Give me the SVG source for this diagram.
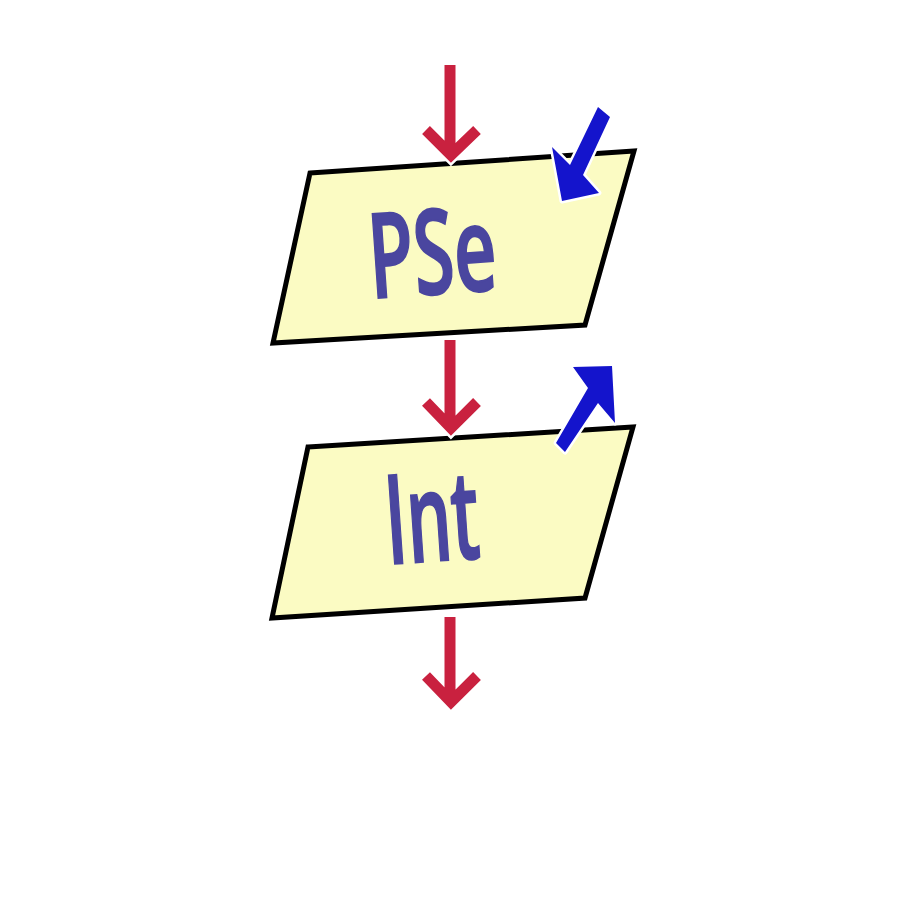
<svg xmlns="http://www.w3.org/2000/svg" width="901" height="900" viewBox="0 0 901 900">
<defs>
<style>
.box{fill:#fbfbc3;stroke:#000;stroke-width:5;stroke-linejoin:miter}
.lbl{font-family:"Open Sans","DejaVu Sans",sans-serif;font-weight:600;fill:#4a469f;stroke:#4a469f;stroke-width:2}
.halo{fill:none;stroke:#fff;stroke-width:16}
.red{fill:none;stroke:#c9213f;stroke-width:11}
.blue{fill:#1414cc;stroke:#fff;stroke-width:5;stroke-linejoin:round;paint-order:stroke}
</style>
</defs>
<rect width="901" height="900" fill="#fff"/>
<g id="node-pse">
<polygon class="box" points="310,173 634,151 585,325 273,343"/>
<text class="lbl" x="435" y="294" font-size="118" text-anchor="middle" textLength="128" lengthAdjust="spacingAndGlyphs" transform="rotate(-4 435 294)">PSe</text>
</g>
<g id="node-int">
<polygon class="box" points="308,447 633,427 585,598 272,618"/>
<text class="lbl" x="435" y="561" font-size="124" text-anchor="middle" textLength="94" lengthAdjust="spacingAndGlyphs" transform="rotate(-4 435 561)">Int</text>
</g>
<g id="connectors">
<g id="arrow-in">
<path class="halo" d="M450,65 V150 M426,130 L451,155 L477,130"/>
<path class="red" d="M450,65 V150 M426,130 L451,155 L477,130"/>
</g>
<g id="arrow-mid">
<path class="halo" d="M450,340 V425 M426,402 L451,428 L477,402"/>
<path class="red" d="M450,340 V425 M426,402 L451,428 L477,402"/>
</g>
<g id="arrow-out">
<path class="halo" d="M450,617 V700 M426,676 L451,702 L477,676"/>
<path class="red" d="M450,617 V700 M426,676 L451,702 L477,676"/>
</g>
<g id="blue-in">
<polygon class="blue" points="598,107 610,117 583,175 599,193 562,201 552,147 570,165"/>
</g>
<g id="blue-out">
<polygon class="blue" points="573,367 612,366 615,423 598,403 565,452 556,443 588,388"/>
</g>
</g>
</svg>
